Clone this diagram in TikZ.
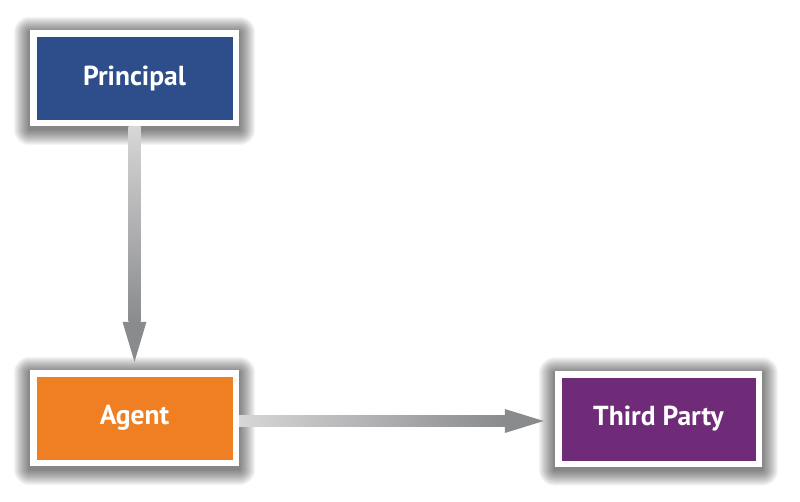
\documentclass[tikz,border=0pt]{standalone}
\usepackage{fontspec}
\setmainfont{PT Sans}
\usetikzlibrary{backgrounds,calc}
\definecolor{pblue}{RGB}{45,78,138}
\definecolor{aorange}{RGB}{239,127,34}
\definecolor{tpurple}{RGB}{111,42,120}
\definecolor{arrdark}{RGB}{138,139,141}
\definecolor{arrlight}{RGB}{215,215,216}
\tikzset{
  boxnode/.style={fill=white, minimum width=209pt, minimum height=96pt, inner sep=0pt,
    text=white, font=\bfseries\fontsize{27.5}{30}\selectfont,
    path picture={\fill[#1] ([shift={(7pt,-7pt)}]path picture bounding box.north west)
      rectangle ([shift={(-6pt,6pt)}]path picture bounding box.south east);}},
  shaftv/.style={top color=arrlight, bottom color=arrdark},
  shafth/.style={left color=arrlight, right color=arrdark},
  headfill/.style={fill=arrdark}
}
\begin{document}
\begin{tikzpicture}[x=1pt,y=1pt]
\useasboundingbox (0,0) rectangle (800,-501);
\node[boxnode=pblue] (P) at (134.5,-78) {Principal};
\node[boxnode=aorange] (A) at (134.5,-418) {Agent};
\node[boxnode=tpurple, minimum width=207pt] (T) at (658.5,-418.5) {Third Party};
\begin{scope}[on background layer]
  \foreach \n in {P,A,T}{
    \foreach \i in {1,...,16}{
      \fill[black,opacity=0.04,rounded corners=\i pt]
        ([shift={(-\i pt,\i pt-3pt)}]\n.north west) rectangle ([shift={(\i pt,-\i pt-3pt)}]\n.south east);
    }
  }
\end{scope}
% vertical connector Principal -> Agent
\coordinate (vb) at ($(A.north)+(0,48)$);
\shade[shaftv] ([xshift=-6pt]P.south) rectangle ([xshift=6pt]vb);
\fill[headfill] ([xshift=-12pt]vb) -- ([xshift=12pt]vb) -- ($(A.north)+(0,8)$) -- cycle;
% horizontal connector Agent -> Third Party
\coordinate (hb) at ($(T.west)+(-50,-2.5)$);
\coordinate (ha) at ($(A.east)+(0,-2.5)$);
\shade[shafth] ([yshift=5.5pt]ha) rectangle ([yshift=-5.5pt]hb);
\fill[headfill] ([yshift=12pt]hb) -- ([yshift=-12pt]hb) -- ($(T.west)+(-11,-2.5)$) -- cycle;
\end{tikzpicture}
\end{document}
